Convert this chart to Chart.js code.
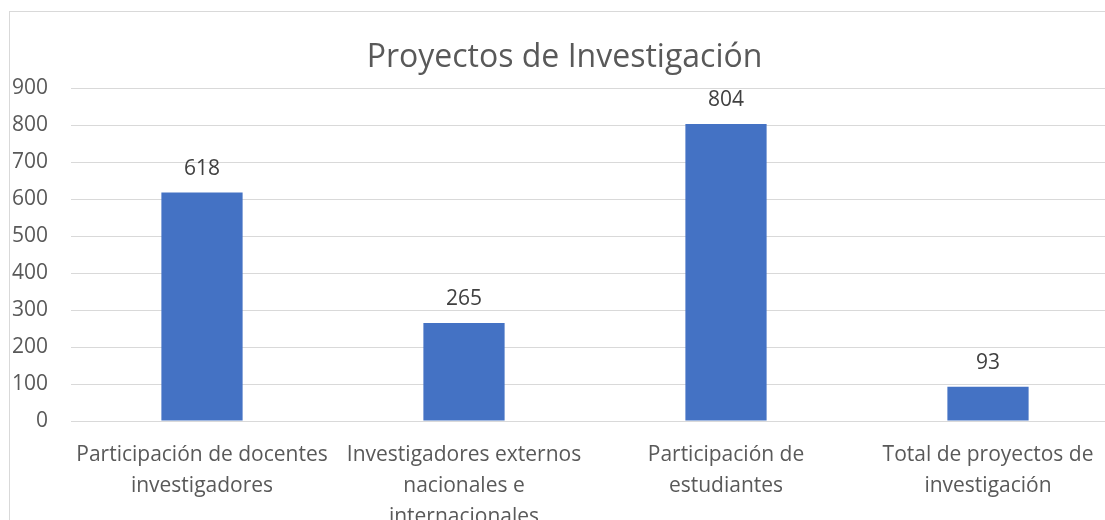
<!DOCTYPE html>
<html>
<head>
<meta charset="utf-8">
<script src="https://cdn.jsdelivr.net/npm/chart.js@4/dist/chart.umd.min.js"></script>
<style>
	html, body { margin: 0; padding: 0; background: #fff; overflow: hidden; width: 1105px; height: 520px; }
	#frame { position: absolute; left: 9px; top: 11px; width: 1110px; height: 520px; border: 1px solid #d9d9d9; background: #fff; }
	#frame canvas { display: block; }
</style>
</head>
<body>
<div id="frame"><canvas id="proyectos-chart" width="1110" height="508"></canvas></div>
<script>
	'use strict';

	var chartTitle = 'Proyectos de Investigación';
	var categories = [
		['Participación de docentes', 'investigadores'],
		['Investigadores externos', 'nacionales e', 'internacionales'],
		['Participación de', 'estudiantes'],
		['Total de proyectos de', 'investigación']
	];
	var values = [618, 265, 804, 93];
	var yTicks = [0, 100, 200, 300, 400, 500, 600, 700, 800, 900];

	var fontFamily = "'Open Sans', 'Noto Sans', sans-serif";

	// Value labels above each bar
	var barValueLabels = {
		id: 'barValueLabels',
		afterDatasetsDraw: function(chart) {
			var ctx = chart.ctx;
			var meta = chart.getDatasetMeta(0);
			ctx.save();
			ctx.fillStyle = '#404040';
			ctx.font = '21px ' + fontFamily;
			ctx.textAlign = 'center';
			ctx.textBaseline = 'middle';
			meta.data.forEach(function(bar, i) {
				ctx.fillText(String(values[i]), bar.x, bar.y - 24);
			});
			ctx.restore();
		}
	};

	new Chart(document.getElementById('proyectos-chart'), {
		type: 'bar',
		data: {
			labels: categories,
			datasets: [{
				label: chartTitle,
				data: values,
				backgroundColor: '#4472C4',
				borderWidth: 0,
				barPercentage: 0.31,
				categoryPercentage: 1
			}]
		},
		plugins: [barValueLabels],
		options: {
			responsive: false,
			animation: false,
			layout: {
				padding: { left: 0, right: 1, top: 0, bottom: 0 }
			},
			plugins: {
				legend: { display: false },
				tooltip: { enabled: false },
				title: {
					display: true,
					text: chartTitle,
					color: '#595959',
					font: { family: fontFamily, size: 32, weight: 'normal', lineHeight: 1.2 },
					padding: { top: 27, bottom: 11 }
				}
			},
			scales: {
				y: {
					min: 0,
					max: 900,
					afterBuildTicks: function(scale) {
						scale.ticks = yTicks.map(function(v) { return { value: v }; });
					},
					afterFit: function(scale) {
						scale.width = 61;
					},
					border: { display: false },
					grid: { color: '#d9d9d9', lineWidth: 1, drawTicks: false },
					ticks: {
						color: '#595959',
						padding: 23,
						font: { family: fontFamily, size: 21 }
					}
				},
				x: {
					afterFit: function(scale) {
						scale.height = 99;
					},
					border: { display: false },
					grid: { display: false, drawTicks: false },
					ticks: {
						color: '#595959',
						padding: 18,
						autoSkip: false,
						maxRotation: 0,
						font: { family: fontFamily, size: 21, lineHeight: 1.48 }
					}
				}
			}
		}
	});
</script>
</body>
</html>
